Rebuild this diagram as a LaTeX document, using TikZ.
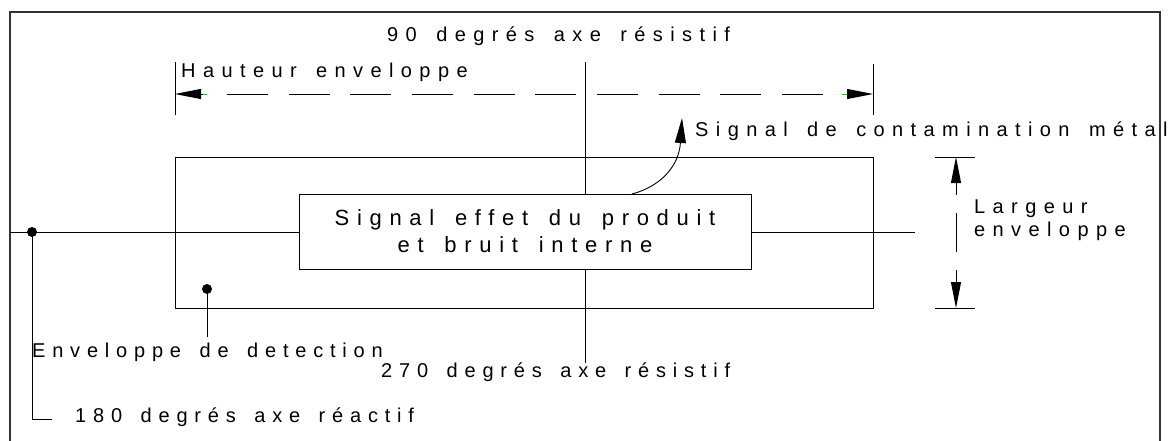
\documentclass[tikz,border=0pt]{standalone}
\usepackage{fontspec}
\setmainfont{Liberation Sans}
\newfontfamily\lab[LetterSpace=37,WordSpace=1.5]{Liberation Sans}
\newfontfamily\labn[LetterSpace=34,WordSpace=1.5]{Liberation Sans}
\newfontfamily\labbox[LetterSpace=35,WordSpace=1.5]{Liberation Sans}
\usetikzlibrary{arrows.meta}
\definecolor{tipgreen}{RGB}{0,230,0}
\begin{document}
\begin{tikzpicture}[x=1pt,y=-1pt,
  lbl/.style={font=\lab\fontsize{20}{23}\selectfont, inner sep=0pt, anchor=base west},
  lbln/.style={lbl, font=\labn\fontsize{20}{23}\selectfont},
  ln/.style={line width=0.9pt, draw=black},
  frm/.style={line width=1.3pt, draw=black!80},
  arr/.style={ln, -{Triangle[length=26pt,width=10pt]}},
  greenbit/.style={line width=0.9pt, draw=tipgreen},
  dimdash/.style={ln, dash pattern=on 41pt off 20.67pt},
  dotnode/.style={circle, fill=black, inner sep=0pt, minimum size=10pt}]
\useasboundingbox (0,0) rectangle (1175,441);
% frame
\coordinate (f1) at (10,441); \coordinate (f2) at (10,12);
\coordinate (f3) at (1160,12); \coordinate (f4) at (1160,441);
\draw[frm] (f1) -- (f2) -- (f3) -- (f4);
% axes
\coordinate (ha1) at (10,232); \coordinate (ha2) at (915,232);
\coordinate (va1) at (585,62); \coordinate (va2) at (585,363);
\draw[ln] (ha1) -- (ha2);
\draw[ln] (va1) -- (va2);
% envelope
\node[ln, minimum width=698pt, minimum height=151pt, inner sep=0pt] (env) at (524,232.5) {};
% inner box
\node[ln, fill=white, minimum width=452pt, minimum height=75pt, inner sep=0pt, align=center,
  font=\labbox\fontsize{22}{27}\selectfont] (box) at (525,231.5) {Signal effet du produit\\et bruit interne};
% hauteur dimension
\coordinate (hl1) at (175,62); \coordinate (hl2) at (175,115);
\coordinate (hr1) at (873,64); \coordinate (hr2) at (873,115);
\draw[ln] (hl1) -- (hl2);
\draw[ln] (hr1) -- (hr2);
\coordinate (hlt) at (175,94); \coordinate (hlb) at (203,94); \coordinate (hlg) at (207,94);
\coordinate (hrt) at (873,94); \coordinate (hrb) at (847,94); \coordinate (hrg) at (842,94);
\draw[arr] (hlb) -- (hlt);
\draw[arr] (hrb) -- (hrt);
\draw[greenbit] (hlb) -- (hlg);
\draw[greenbit] (hrb) -- (hrg);
\coordinate (hd1) at (227,94); \coordinate (hd2) at (823,94);
\draw[dimdash] (hd1) -- (hd2);
% largeur dimension
\coordinate (lt1) at (935,157); \coordinate (lt2) at (975,157);
\coordinate (lb1) at (935,308); \coordinate (lb2) at (975,308);
\draw[ln] (lt1) -- (lt2);
\draw[ln] (lb1) -- (lb2);
\coordinate (ltt) at (956,157); \coordinate (lts) at (956,195);
\coordinate (lbt) at (956,308); \coordinate (lbs) at (956,270);
\coordinate (lm1) at (956,213); \coordinate (lm2) at (956,252);
\draw[arr] (lts) -- (ltt);
\draw[arr] (lbs) -- (lbt);
\draw[ln] (lm1) -- (lm2);
% contamination arrow
\coordinate (cs) at (632,194); \coordinate (ce) at (682,118);
\draw[ln, -{Triangle[length=25pt,width=11pt]}] (cs) .. controls (662,186) and (679,165) .. (ce);
% detection pointers
\node[dotnode] (d1) at (32,232) {};
\coordinate (d1b) at (32,419); \coordinate (d1e) at (52,419);
\draw[ln] (d1.center) -- (d1b) -- (d1e);
\node[dotnode] (d2) at (207,289) {};
\coordinate (d2b) at (207,337);
\draw[ln] (d2.center) -- (d2b);
% labels
\node[lbl] (t90) at (387,42) {90 degrés axe résistif};
\node[lbl] (thaut) at (181,78) {Hauteur enveloppe};
\node[lbl] (tsig) at (695,136) {Signal de contamination métal};
\node[lbl] (tlarg1) at (974,213) {Largeur};
\node[lbl] (tlarg2) at (974,236) {enveloppe};
\node[lbln] (tenv) at (32,357) {Enveloppe de detection};
\node[lbln] (t270) at (381,377) {270 degrés axe résistif};
\node[lbln] (t180) at (75,422) {180 degrés axe réactif};
\end{tikzpicture}
\end{document}
